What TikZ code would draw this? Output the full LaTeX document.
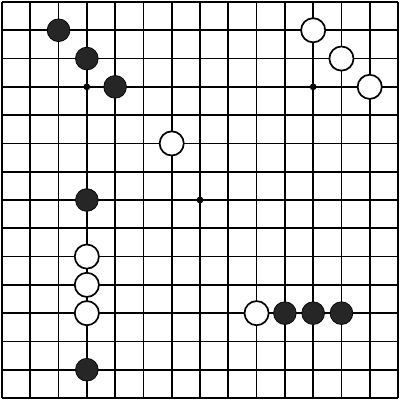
\documentclass[tikz,border=0pt]{standalone}
\begin{document}
\begin{tikzpicture}[x=0.7cm,y=-0.7cm,
  gridline/.style={line width=1.2pt,black},
  bstone/.style={circle,fill=black!85,draw=black,line width=0.5pt,minimum size=16pt,inner sep=0pt},
  wstone/.style={circle,fill=white,draw=black,line width=1.2pt,minimum size=17pt,inner sep=0pt},
  hoshi/.style={circle,fill=black,inner sep=0pt,minimum size=4.8pt}]
\useasboundingbox (-0.07,-0.07) rectangle (14.07,14.07);
\foreach \k in {0,...,14}{
  \draw[gridline] (\k,0) -- (\k,14);
  \draw[gridline] (0,\k) -- (14,\k);
}
\foreach \p/\q [count=\n] in {3/3,11/3,7/7,3/11,11/11}
  \node[hoshi] (h\n) at (\p,\q) {};
\foreach \p/\q [count=\n] in {2/1,3/2,4/3,3/7,3/13,10/11,11/11,12/11}
  \node[bstone] (b\n) at (\p,\q) {};
\foreach \p/\q [count=\n] in {11/1,12/2,13/3,6/5,3/9,3/10,3/11,9/11}
  \node[wstone] (w\n) at (\p,\q) {};
\end{tikzpicture}
\end{document}
